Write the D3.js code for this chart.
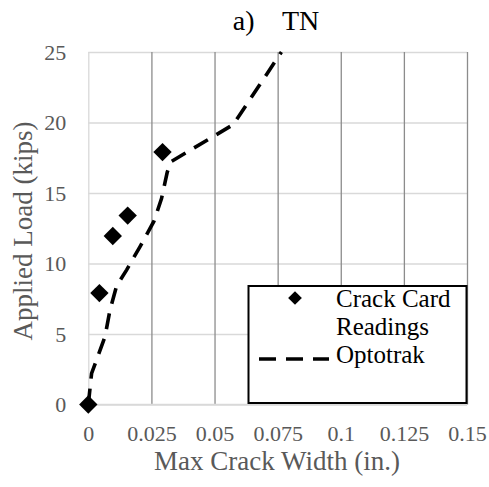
<!DOCTYPE html>
<html>
<head>
<meta charset="utf-8">
<script src="https://cdn.jsdelivr.net/npm/d3@7"></script>
</head>
<body style="margin:0;background:#fff">
<svg id="chart" width="489" height="487"></svg>
<script>
// Crack card readings (diamond markers)
const crackWidth = [0, 0.0044, 0.0097, 0.0156, 0.0294];
const crackLoad  = [0, 7.9, 11.95, 13.4, 17.9];

// Optotrak measurements (dashed line)
const optoWidth = [0, 0.0013, 0.0066, 0.0086, 0.0112, 0.0152, 0.0205, 0.026, 0.029, 0.0313, 0.033, 0.0574, 0.0765];
const optoLoad  = [0, 2.2, 4.8, 6.7, 8.4, 9.55, 11.2, 13.0, 14.6, 16.5, 17.25, 19.85, 25];

const xTicks = [0, 0.025, 0.05, 0.075, 0.1, 0.125, 0.15];
const xTickLabels = ["0", "0.025", "0.05", "0.075", "0.1", "0.125", "0.15"];
const yTicks = [0, 5, 10, 15, 20, 25];

const titleText = "a)    TN";
const xTitle = "Max Crack Width (in.)";
const yTitle = "Applied Load (kips)";
const legendLabels = [["Crack Card", "Readings"], ["Optotrak"]];

const serif = "'Liberation Serif', serif";
const svg = d3.select("#chart");
const plot = { left: 88.3, right: 467, top: 52, bottom: 404.5 };

const x = d3.scaleLinear().domain([0, 0.15]).range([plot.left, plot.right]);
const y = d3.scaleLinear().domain([0, 25]).range([plot.bottom, plot.top]);

// Horizontal gridlines (light)
const yAxis = d3.axisLeft(y).tickValues(yTicks).tickSize(-(plot.right - plot.left)).tickFormat(d => d).tickPadding(22);
const gy = svg.append("g").attr("transform", `translate(${plot.left},0)`).call(yAxis);
gy.select(".domain").remove();
gy.selectAll(".tick line").attr("stroke", "#d9d9d9").attr("stroke-width", 1.5);
gy.selectAll(".tick text").attr("fill", "#595959")
  .style("font-family", serif).style("font-size", "22px");

// Vertical gridlines (darker)
const xAxis = d3.axisBottom(x).tickValues(xTicks).tickSize(-(plot.bottom - plot.top))
  .tickFormat((d, i) => xTickLabels[i]).tickPadding(21);
const gx = svg.append("g").attr("transform", `translate(0,${plot.bottom})`).call(xAxis);
gx.select(".domain").remove();
gx.selectAll(".tick line").attr("stroke", (d, i) => i === 0 ? "#d9d9d9" : "#8c8c8c").attr("stroke-width", 1.3);
gx.selectAll(".tick text").attr("fill", "#595959")
  .style("font-family", serif).style("font-size", "22px");

// x axis baseline
svg.append("line")
  .attr("x1", plot.left).attr("x2", plot.right)
  .attr("y1", y(0)).attr("y2", y(0))
  .attr("stroke", "#d9d9d9").attr("stroke-width", 1.5);

// Optotrak dashed line
const optoData = optoWidth.map((w, i) => [w, optoLoad[i]]);
const line = d3.line().x(d => x(d[0])).y(d => y(d[1]));
svg.append("path")
  .datum(optoData)
  .attr("d", line)
  .attr("fill", "none")
  .attr("stroke", "#000")
  .attr("stroke-width", 3.6)
  .attr("stroke-dasharray", "16,10");

// Crack card diamonds
const diamond = d3.symbol().type(d3.symbolDiamond2).size(215);
svg.append("g").selectAll("path")
  .data(crackWidth.map((w, i) => [w, crackLoad[i]]))
  .join("path")
  .attr("d", diamond)
  .attr("transform", d => `translate(${x(d[0])},${y(d[1])})`)
  .attr("fill", "#000");

// Title
svg.append("text")
  .attr("x", 276).attr("y", 30)
  .attr("text-anchor", "middle")
  .attr("fill", "#000")
  .style("font-family", serif).style("font-size", "28px")
  .style("white-space", "pre")
  .text(titleText);

// Axis titles
svg.append("text")
  .attr("x", 277).attr("y", 470)
  .attr("text-anchor", "middle")
  .attr("fill", "#595959")
  .style("font-family", serif).style("font-size", "27px")
  .text(xTitle);

svg.append("text")
  .attr("transform", "translate(32,231) rotate(-90)")
  .attr("text-anchor", "middle")
  .attr("fill", "#595959")
  .style("font-family", serif).style("font-size", "27px")
  .text(yTitle);

// Legend
const lg = svg.append("g");
lg.append("rect")
  .attr("x", 248.5).attr("y", 286).attr("width", 218).attr("height", 117)
  .attr("fill", "#fff").attr("stroke", "#000").attr("stroke-width", 2);

lg.append("path")
  .attr("d", d3.symbol().type(d3.symbolDiamond2).size(120))
  .attr("transform", "translate(295,298)")
  .attr("fill", "#000");

lg.append("line")
  .attr("x1", 259).attr("x2", 329).attr("y1", 359).attr("y2", 359)
  .attr("stroke", "#000").attr("stroke-width", 3.6)
  .attr("stroke-dasharray", "17,10");

const lt = lg.append("text").attr("fill", "#000")
  .style("font-family", serif).style("font-size", "25px");
lt.append("tspan").attr("x", 336).attr("y", 306.7).text(legendLabels[0][0]);
lt.append("tspan").attr("x", 336).attr("y", 335).text(legendLabels[0][1]);
lt.append("tspan").attr("x", 336).attr("y", 363.3).text(legendLabels[1][0]);
</script>
</body>
</html>
